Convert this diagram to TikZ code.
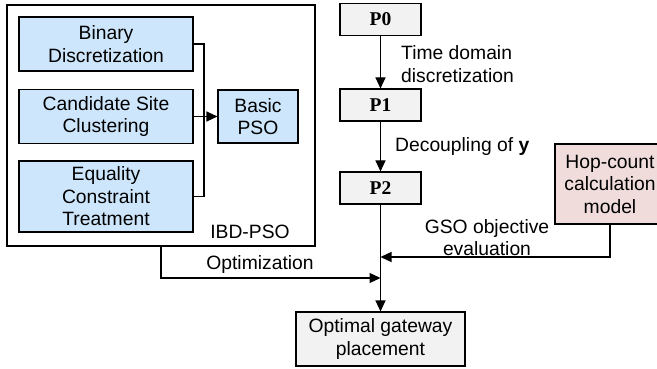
\documentclass[tikz,border=0pt]{standalone}
\usepackage{fontspec}
\setmainfont{Liberation Sans}
\newfontfamily\pserif{Liberation Serif}
\usetikzlibrary{arrows.meta}
\definecolor{bluefill}{RGB}{206,230,252}
\definecolor{grayfill}{RGB}{242,242,242}
\definecolor{pinkfill}{RGB}{240,221,219}
\begin{document}
\begin{tikzpicture}[x=1pt,y=-1pt,
  every node/.style={font=\fontsize{19.3}{22.5}\selectfont, inner sep=0pt, align=center},
  bluebox/.style={draw=black, line width=1.1pt, fill=bluefill, minimum width=174pt},
  pbox/.style={draw=black, line width=1.1pt, fill=grayfill, minimum width=81pt, minimum height=32pt, font=\fontsize{19.5}{21}\selectfont\pserif\bfseries},
  lbl/.style={align=left, anchor=west},
  conn/.style={line width=1.1pt},
  arr/.style={line width=1.1pt, -{Triangle[length=11pt,width=10pt]}}]
\useasboundingbox (0,0) rectangle (657,369);
\fill[white] (0,0) rectangle (657,369);
% IBD-PSO outer box
\node[draw=black, line width=1.1pt, minimum width=308pt, minimum height=241pt] (ibd) at (161,125.5) {};
\node (ibdlbl) at (250,232) {IBD-PSO};
\node[bluebox, minimum height=54pt] (bin) at (106,44) {Binary\\Discretization};
\node[bluebox, minimum height=54pt] (cand) at (106,116.5) {Candidate Site\\Clustering};
\node[bluebox, minimum height=71pt] (eq) at (106,196.5) {Equality\\Constraint\\Treatment};
\node[draw=black, line width=1.1pt, fill=bluefill, minimum width=80pt, minimum height=53pt] (bpso) at (258,116.5) {Basic\\PSO};
\coordinate (bt) at (204,44);
\coordinate (bb) at (204,196.5);
\draw[conn] (bin.east) -- (bt) -- (bb) -- (eq.east);
\draw[arr] (cand.east) -- (bpso.west);
% right column
\node[pbox] (p0) at (380.5,19.5) {P0};
\node[pbox] (p1) at (380.5,105) {P1};
\node[pbox] (p2) at (380.5,188) {P2};
\node[draw=black, line width=1.1pt, fill=grayfill, minimum width=169pt, minimum height=54pt] (opt) at (380.5,339) {Optimal gateway\\placement};
\node[draw=black, line width=1.1pt, fill=pinkfill, minimum width=110pt, minimum height=80pt] (hop) at (610,184) {Hop-count\\calculation\\model};
\draw[arr] (p0) -- (p1);
\draw[arr] (p1) -- (p2);
\draw[arr] (p2) -- (opt);
\node[lbl] (tdl) at (401,64) {Time domain\\discretization};
\node[lbl] (dcl) at (395,147) {Decoupling of \textbf{y}};
\node (gsol) at (487,237.5) {GSO objective\\evaluation};
\node (optl) at (260,265) {Optimization};
\coordinate (mg) at (380.5,257);
\coordinate (mo) at (380.5,278);
\coordinate (oc) at (161,278);
\draw[arr] (hop.south) |- (mg);
\draw[arr] (ibd.south -| oc) -- (oc) -- (mo);
\end{tikzpicture}
\end{document}
